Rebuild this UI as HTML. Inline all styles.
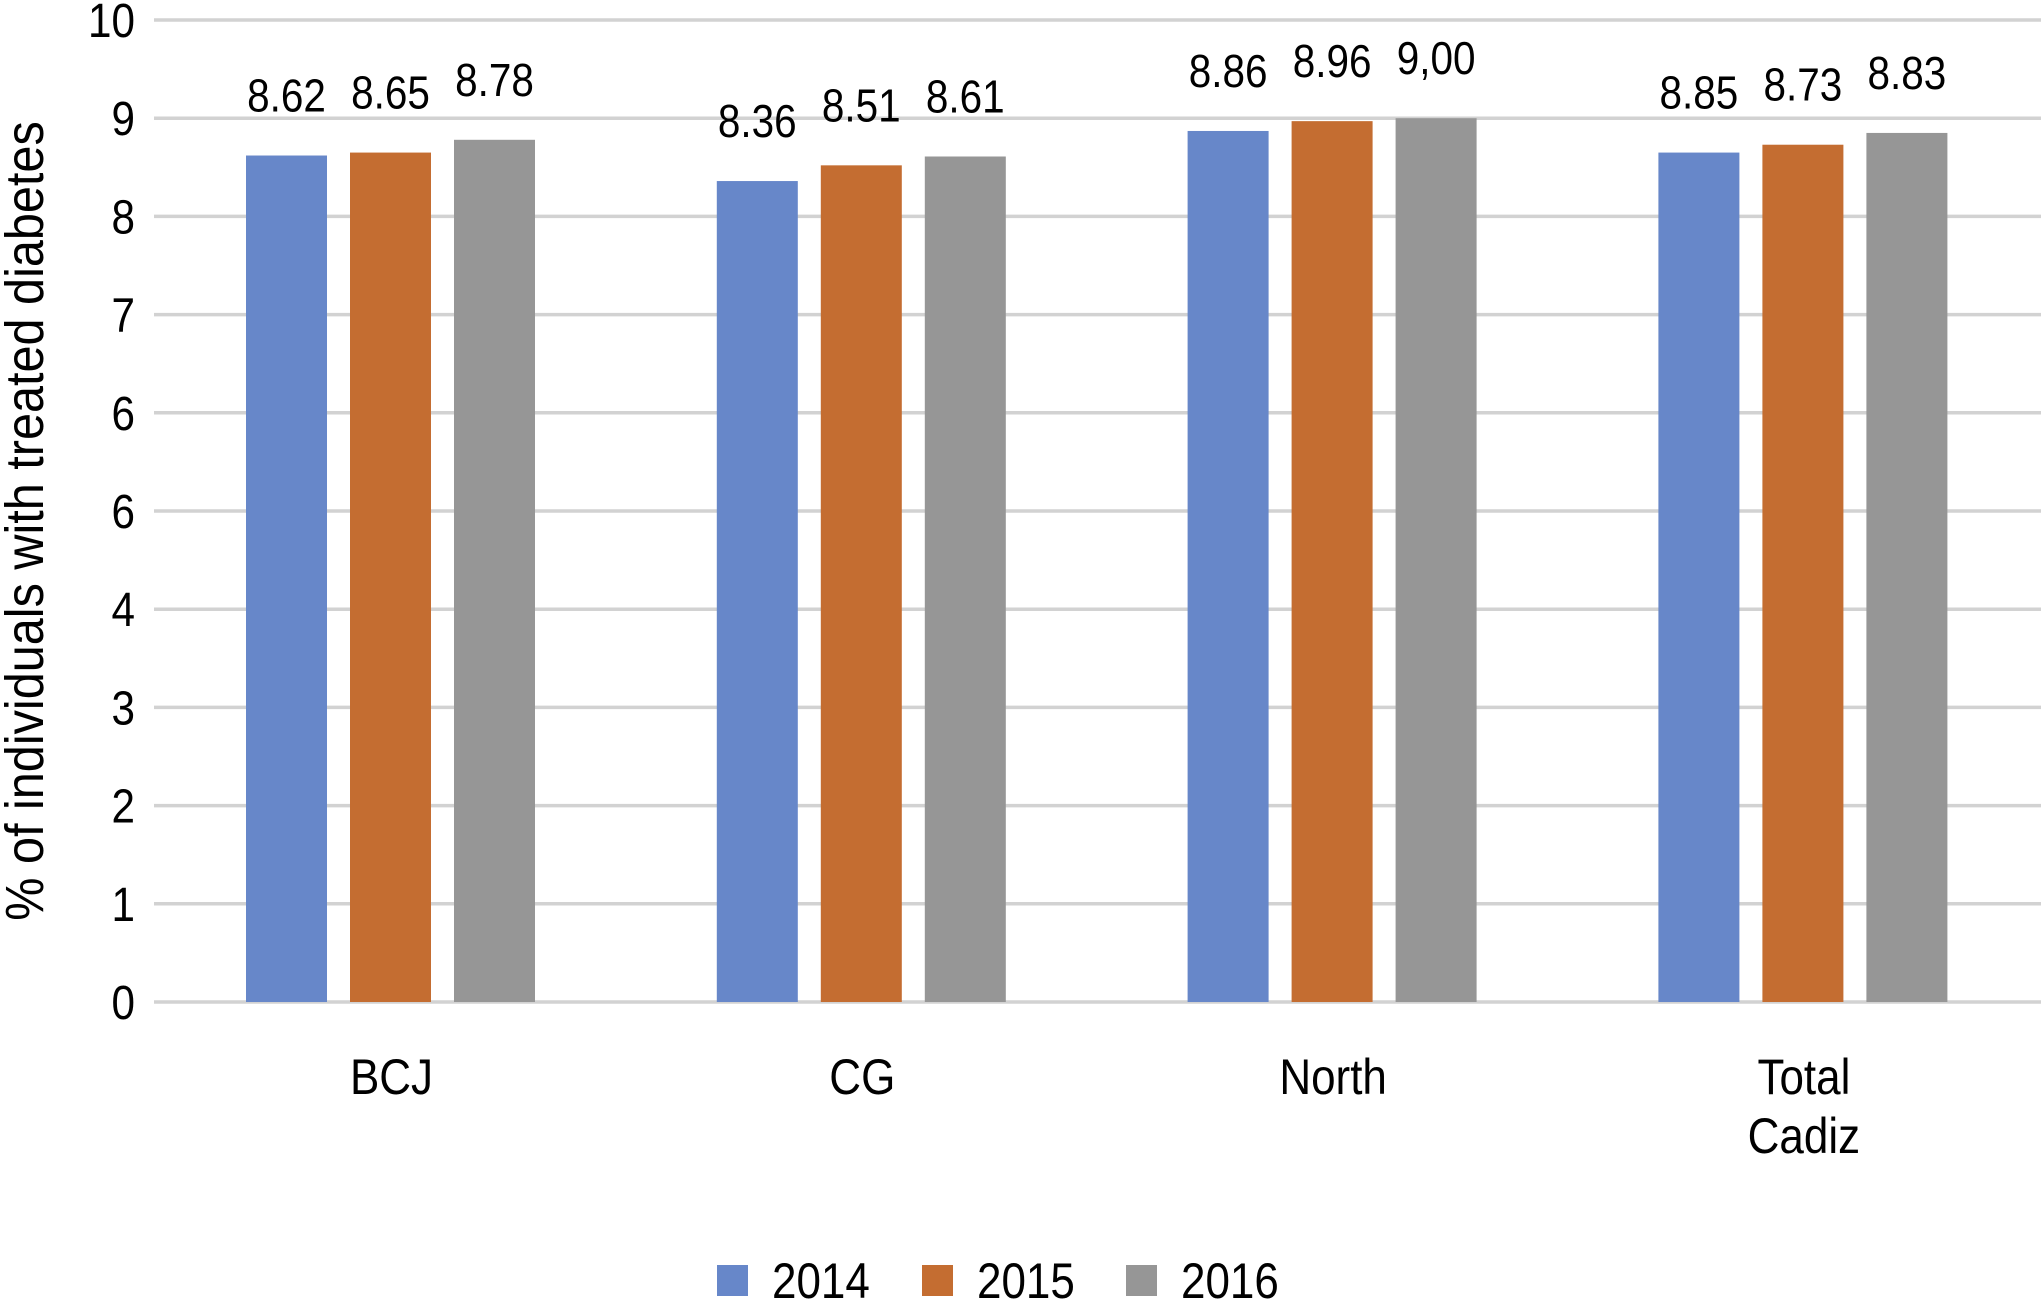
<!DOCTYPE html>
<html><head><meta charset="utf-8"><style>
html,body{margin:0;padding:0;background:#fff;}
svg{display:block;font-family:"Liberation Sans",Arial,sans-serif;}
</style></head><body>
<svg id="chart" width="2041" height="1310" viewBox="0 0 2041 1310">
<g id="grid"></g>
<g id="yticks"></g>
<g id="bars"></g>
<g id="labels"></g>
<g id="cats"></g>
<text transform="translate(43,521) rotate(-90) scale(0.9,1)" text-anchor="middle" font-size="54" fill="#000">% of individuals with treated diabetes</text>
<g id="legend"></g>
</svg>
<script>
const categories = [["BCJ"],["CG"],["North"],["Total","Cadiz"]];
const series = ["2014","2015","2016"];
const values2014 = [8.62, 8.36, 8.87, 8.65];
const values2015 = [8.65, 8.52, 8.97, 8.73];
const values2016 = [8.78, 8.61, 9.00, 8.85];
const labels2014 = ["8.62","8.36","8.86","8.85"];
const labels2015 = ["8.65","8.51","8.96","8.73"];
const labels2016 = ["8.78","8.61","9,00","8.83"];
const tickValues = [0,1,2,3,4,5,6,7,8,9,10];
const tickLabels = ["0","1","2","3","4","6","6","7","8","9","10"];

const colors = ["#6787c9","#c46d31","#969696"];
const NS = "http://www.w3.org/2000/svg";
const y = v => 1002 - v * 98.2;
const xc = i => 390.5 + i * 470.8;
const barOff = [-144.5, -40.5, 63.5], barW = 81;
const vals = [values2014, values2015, values2016];
const labs = [labels2014, labels2015, labels2016];
const SX = 0.88;
function mk(tag, attrs, parent){const e=document.createElementNS(NS,tag);for(const k in attrs)e.setAttribute(k,attrs[k]);parent.appendChild(e);return e;}
function txt(parent,x,yy,size,anchor,str){
  const t=mk('text',{transform:`translate(${x},${yy}) scale(${SX},1)`,'text-anchor':anchor,'font-size':size,fill:'#000'},parent);
  t.textContent=str; return t;
}

const grid=document.getElementById('grid'), yt=document.getElementById('yticks');
tickValues.forEach((t,i)=>{
  const l=mk('line',{x1:154,x2:2041,y1:y(t),y2:y(t),stroke:'#d2d2d2','stroke-width':3.5},grid);
  
  
  const tx=txt(yt,135,y(t)+17,48,'end',tickLabels[i]);
  
  
});
const bars=document.getElementById('bars'), lg=document.getElementById('labels'), cg=document.getElementById('cats');
categories.forEach((c,i)=>{
  series.forEach((s,j)=>{
    const v=vals[j][i];
    const r=mk('rect',{x:xc(i)+barOff[j],y:y(v),width:barW,height:y(0)-y(v),fill:colors[j]},bars);
    
    
    const t=txt(lg,xc(i)+barOff[j]+barW/2,y(v)-44,46,'middle',labs[j][i]);
    
    
  });
  c.forEach((line,k)=>{
    const t=txt(cg,xc(i)+1,1094+k*59,50,'middle',line);
    
    
  });
});
const leg=document.getElementById('legend');
const legX=[717,922,1126];
series.forEach((s,j)=>{
  const r=mk('rect',{x:legX[j],y:1265,width:31,height:31,fill:colors[j]},leg);
  
  
  const t=txt(leg,legX[j]+55,1298,50,'start',s);
  
  
});
</script>
</body></html>
